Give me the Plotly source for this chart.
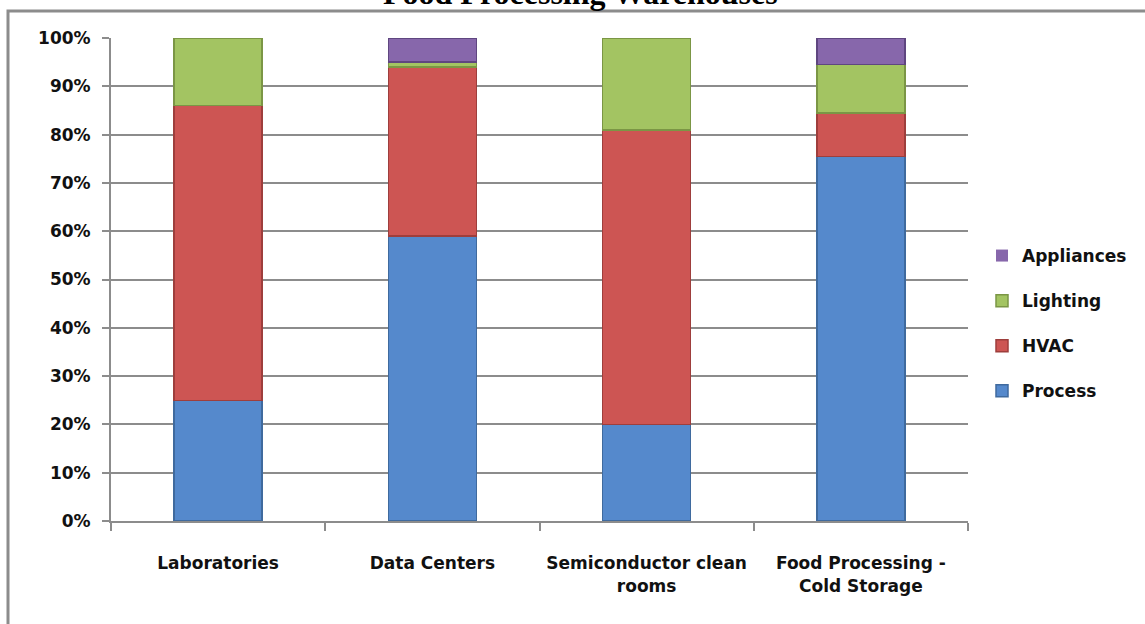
import plotly.graph_objects as go

categories = ["Laboratories", "Data Centers", "Semiconductor clean<br>rooms", "Food Processing -<br>Cold Storage"]
process = [25, 59, 20, 75.5]
hvac = [61, 35, 61, 9]
lighting = [14, 1, 19, 10]
appliances = [0, 5, 0, 5.5]

series = [
    ("Process", process, "#5589CC", "#3F6A9E", 4),
    ("HVAC", hvac, "#CD5553", "#9E3E3C", 3),
    ("Lighting", lighting, "#A3C462", "#7B9645", 2),
    ("Appliances", appliances, "#8767AB", "#5F4680", 1),
]

W, H = 1145, 624
L, R, T, B = 111, 968, 38, 521

fig = go.Figure()
for name, vals, col, edge, rank in series:
    fig.add_trace(go.Bar(
        x=categories, y=vals, name=name,
        marker=dict(color=col, line=dict(color=edge, width=[1.5 if v > 0 else 0 for v in vals])),
        legendgroup=name, legendrank=rank,
    ))

def px(x):
    return (x - L) / (R - L)

def py(y):
    return (B - y) / (B - T)

font = "DejaVu Sans"
fig.update_layout(
    width=W, height=H,
    margin=dict(l=L, r=W - R, t=T, b=H - B, autoexpand=False),
    barmode="stack", bargap=0.59,
    plot_bgcolor="white", paper_bgcolor="white",
    font=dict(family=font, size=17, color="#111111"),
    showlegend=True,
    legend=dict(x=px(982), y=py(238), xanchor="left", yanchor="top",
                traceorder="grouped", tracegroupgap=20,
                font=dict(family=font, size=17, color="#111111", weight="bold"),
                itemwidth=30),
    xaxis=dict(type="category", showline=True, linecolor="#8c8c8c", linewidth=2,
               ticks="outside", tickson="boundaries", ticklen=8, tickwidth=2,
               tickcolor="#8c8c8c", showgrid=False, ticklabelstandoff=26,
               tickangle=0,
               tickfont=dict(family=font, size=17, color="#111111", weight="bold")),
    yaxis=dict(range=[0, 100], dtick=10, ticksuffix="%", showline=True,
               linecolor="#8c8c8c", linewidth=2, ticks="outside", ticklen=7,
               tickwidth=2, tickcolor="#8c8c8c", showgrid=True,
               gridcolor="#8c8c8c", gridwidth=2, zeroline=False,
               ticklabelstandoff=8,
               tickfont=dict(family=font, size=17, color="#111111", weight="bold")),
    shapes=[dict(type="rect", xref="paper", yref="paper",
                 x0=px(8), x1=px(1160), y0=py(640), y1=py(11),
                 line=dict(color="#8c8c8c", width=3), layer="below")],
    annotations=[dict(text="<b>Food Processing Warehouses</b>", xref="paper", yref="paper",
                      x=px(580), y=py(13), xanchor="center", yanchor="bottom",
                      showarrow=False,
                      font=dict(family="Liberation Serif", size=32, color="#000000"))],
)

fig.write_html("out.html", config={"displayModeBar": False},
               post_script="document.body.style.margin='0';document.body.style.overflow='hidden';")
